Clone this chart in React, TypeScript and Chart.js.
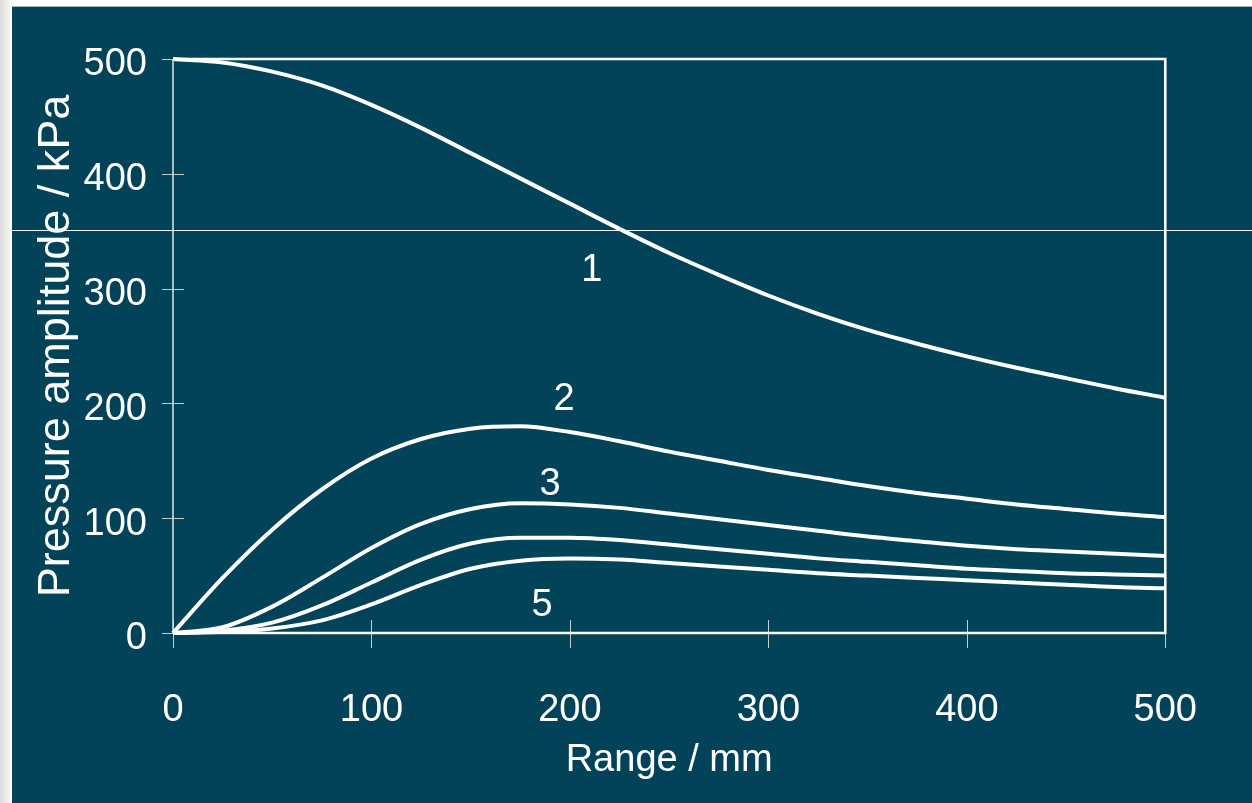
import React, { useEffect, useRef } from "react";
import { Chart, registerables } from "chart.js";

Chart.register(...registerables);

// Range (mm) sample positions
const rangeMm = [0, 25, 50, 75, 100, 125, 150, 175, 200, 225, 250, 275, 300, 325, 350, 375, 400, 425, 450, 475, 500];

// Pressure amplitude (kPa) for curves 1..5
const curve1 = [500, 497, 489, 477, 460, 440, 418, 396, 374, 352, 331, 312, 294, 278, 264, 252, 241, 231, 222, 213, 205];
const curve2 = [0, 48, 90, 125, 152, 169, 178, 180, 175, 167, 158, 150, 142, 135, 128, 122, 117, 112, 108, 104, 101];
const curve3 = [0, 5, 23, 48, 74, 95, 108, 113, 112, 109, 104, 99, 94, 89, 84, 80, 76, 73, 71, 69, 67];
const curve4 = [0, 2, 9, 24, 44, 64, 78, 83, 83, 81, 77, 73, 69, 65, 62, 59, 56, 54, 52, 51, 50];
const curve5 = [0, 1, 4, 11, 25, 42, 56, 63, 65, 64, 61, 58, 55, 52, 50, 48, 46, 44, 42, 40, 39];

// Curve annotation labels (text, range mm, kPa)
const curveLabelText = ["1", "2", "3", "5"];
const curveLabelX = [211, 197, 190, 186];
const curveLabelY = [316, 203, 129, 24];

const xTicks = [0, 100, 200, 300, 400, 500];
const yTicks = [0, 100, 200, 300, 400, 500];

const FONT = "'Liberation Sans', Arial, Helvetica, sans-serif";
const BG = "#03435A";

const framePlugin = {
  id: "frameTicks",
  beforeDatasetsDraw(chart: any) {
    const { ctx, chartArea } = chart;
    const xs = chart.scales.x;
    const ys = chart.scales.y;
    ctx.save();
    ctx.strokeStyle = "#c4ccd0";
    ctx.lineWidth = 1;
    yTicks.forEach((v) => {
      const py = Math.round(ys.getPixelForValue(v)) + 0.5;
      ctx.beginPath();
      ctx.moveTo(chartArea.left - 11, py);
      ctx.lineTo(chartArea.left + 11, py);
      ctx.stroke();
    });
    xTicks.forEach((v) => {
      const px = Math.round(xs.getPixelForValue(v)) + 0.5;
      ctx.beginPath();
      ctx.moveTo(px, chartArea.bottom - 13);
      ctx.lineTo(px, chartArea.bottom + 15);
      ctx.stroke();
    });
    ctx.strokeStyle = "#ffffff";
    ctx.lineWidth = 2.5;
    ctx.beginPath();
    ctx.moveTo(chartArea.left, chartArea.top);
    ctx.lineTo(chartArea.right, chartArea.top);
    ctx.lineTo(chartArea.right, chartArea.bottom);
    ctx.lineTo(chartArea.left, chartArea.bottom);
    ctx.stroke();
    ctx.strokeStyle = "#dfe6e8";
    ctx.lineWidth = 1.5;
    ctx.beginPath();
    ctx.moveTo(chartArea.left, chartArea.top);
    ctx.lineTo(chartArea.left, chartArea.bottom);
    ctx.stroke();
    ctx.restore();
  },
  afterDatasetsDraw(chart: any) {
    const { ctx } = chart;
    const xs = chart.scales.x;
    const ys = chart.scales.y;
    ctx.save();
    ctx.fillStyle = "#ffffff";
    ctx.font = `38px ${FONT}`;
    ctx.textAlign = "center";
    ctx.textBaseline = "middle";
    curveLabelText.forEach((t, i) => {
      ctx.fillText(t, xs.getPixelForValue(curveLabelX[i]), ys.getPixelForValue(curveLabelY[i]));
    });
    ctx.restore();
  },
};

export default function App() {
  const canvasRef = useRef<HTMLCanvasElement | null>(null);

  useEffect(() => {
    document.body.style.margin = "0";
    const canvas = canvasRef.current;
    if (!canvas) return;
    const series = [curve1, curve2, curve3, curve4, curve5];
    const chart = new Chart(canvas, {
      type: "line",
      data: {
        datasets: series.map((s, i) => ({
          label: `Curve ${i + 1}`,
          data: rangeMm.map((x, j) => ({ x, y: s[j] })),
          borderColor: "#ffffff",
          borderWidth: 4,
          pointRadius: 0,
          fill: false,
          cubicInterpolationMode: "monotone" as const,
          clip: false as any,
        })),
      },
      options: {
        animation: false,
        responsive: false,
        maintainAspectRatio: false,
        layout: { padding: { top: 53, right: 85, left: 0, bottom: 0 } },
        plugins: {
          legend: { display: false },
          tooltip: { enabled: false },
        },
        scales: {
          x: {
            type: "linear",
            min: 0,
            max: 500,
            afterFit: (s: any) => {
              s.height = 170;
            },
            afterBuildTicks: (s: any) => {
              s.ticks = xTicks.map((v) => ({ value: v }));
            },
            grid: { display: false, drawTicks: false },
            border: { display: false },
            ticks: {
              color: "#ffffff",
              font: { family: FONT, size: 38 },
              padding: 55,
              maxRotation: 0,
            },
            title: {
              display: true,
              text: "Range / mm",
              color: "#ffffff",
              font: { family: FONT, size: 38, lineHeight: 1.2 },
              padding: { top: 0, bottom: 20 },
            },
          },
          y: {
            type: "linear",
            min: 0,
            max: 500,
            afterFit: (s: any) => {
              s.width = 161;
            },
            afterBuildTicks: (s: any) => {
              s.ticks = yTicks.map((v) => ({ value: v }));
            },
            grid: { display: false, drawTicks: false },
            border: { display: false },
            ticks: {
              color: "#ffffff",
              font: { family: FONT, size: 38 },
              padding: 26,
              labelOffset: 6,
            },
            title: {
              display: true,
              text: "Pressure amplitude / kPa",
              color: "#ffffff",
              font: { family: FONT, size: 45, lineHeight: 1.2 },
              padding: { top: 18, bottom: 0 },
            },
          },
        },
      },
      plugins: [framePlugin],
    });
    return () => chart.destroy();
  }, []);

  return (
    <div
      style={{
        position: "fixed",
        left: 0,
        top: 0,
        width: 1252,
        height: 803,
        overflow: "hidden",
        background: "linear-gradient(to right, #dadada 0px, #f2f2f2 9px, #ffffff 12px)",
      }}
    >
      <div
        style={{
          position: "absolute",
          left: 12,
          top: 6,
          width: 1240,
          height: 797,
          background: BG,
          borderTop: "1px solid #9fb2b8",
          boxSizing: "border-box",
        }}
      >
        <canvas
          ref={canvasRef}
          width={1240}
          height={797}
          style={{ position: "absolute", left: 0, top: -1, width: 1240, height: 797 }}
        />
      </div>
      <div
        style={{
          position: "absolute",
          left: 12,
          top: 230,
          width: 1240,
          height: 1,
          background: "#eef3f4",
        }}
      />
    </div>
  );
}
